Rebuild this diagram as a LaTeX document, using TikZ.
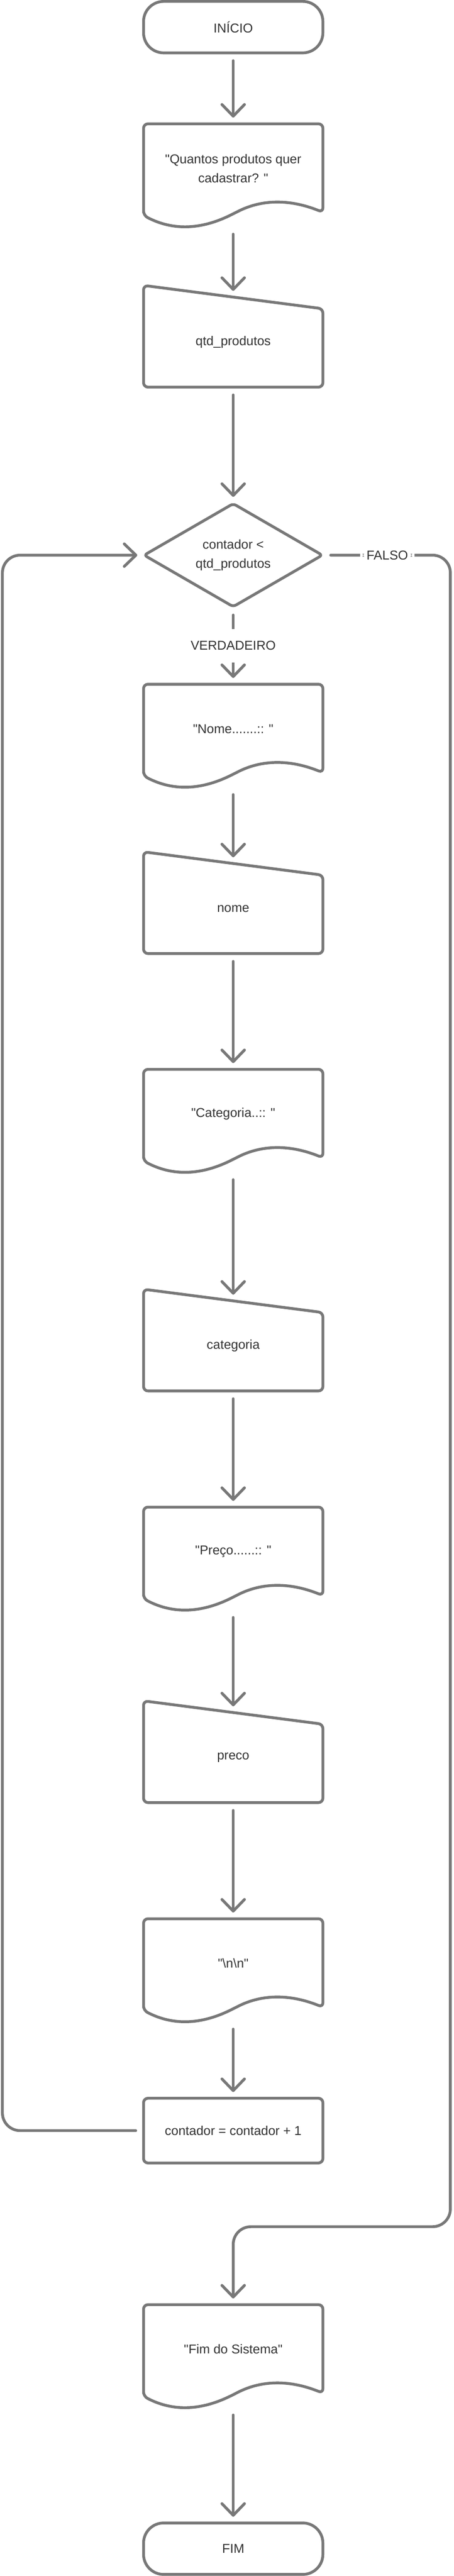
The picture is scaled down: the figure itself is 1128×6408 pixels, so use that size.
\documentclass[tikz,border=0pt]{standalone}
\usepackage{fontspec}
\setmainfont{Liberation Sans}[Ligatures=TeXOff]
\usetikzlibrary{arrows.meta,shapes.geometric}
\definecolor{linegray}{HTML}{787878}
\definecolor{txtgray}{HTML}{333333}

% outlines drawn round the (invisible) text nodes
\newcommand{\docoutline}[1]{%
  \draw[shapeline,shift={(#1.center)}] (-223,117) -- (-223,-111) -- (223,-111) -- (223,109)
    .. controls (141,76) and (71,76) .. (0,113)
    .. controls (-79,151) and (-148,156) .. (-223,117) -- cycle;}
\newcommand{\manoutline}[1]{%
  \draw[shapeline,shift={(#1.center)}] (-223,112) -- (-223,-141) -- (223,-83) -- (223,112) -- cycle;}

\begin{document}
\begin{tikzpicture}[x=0.5pt,y=-0.5pt,
  every node/.style={text=txtgray,font=\fontsize{16}{24}\selectfont,align=center},
  shapeline/.style={draw=linegray,line width=3.5pt,rounded corners=5.5pt},
  term/.style={draw=linegray,line width=3.5pt,rounded corners=25pt,minimum width=223pt,minimum height=64pt},
  proc/.style={draw=linegray,line width=3.5pt,rounded corners=5.5pt,minimum width=223pt,minimum height=80.5pt},
  doc/.style={line width=3.5pt,minimum width=223pt,minimum height=111pt},
  manin/.style={line width=3.5pt,minimum width=223pt,minimum height=112pt},
  decis/.style={diamond,aspect=1.72,draw=linegray,line width=3.5pt,rounded corners=4pt,minimum width=223pt,minimum height=129.5pt,inner sep=0pt},
  flow/.style={draw=linegray,line width=3.5pt,line cap=round,shorten <=8pt,shorten >=6pt,-{Straight Barb[length=14.5pt,width=28pt,round]}},
  fromdoc/.style={shorten <=24.5pt},
  lbl/.style={fill=white,inner xsep=8pt,inner ysep=15pt}]
\useasboundingbox (0,0) rectangle (1128,6408);

\node[term] (ini) at (580,67.5) {INÍCIO};
\node[doc] (msg1) at (580,419) {"Quantos produtos quer\\cadastrar? "};
\node[manin] (qtd) at (580,851) {qtd\_produtos};
\node[decis] (dec) at (580,1381) {contador <\\qtd\_produtos};
\node[doc] (nomemsg) at (580,1813) {"Nome.......:: "};
\node[manin] (nome) at (580,2260) {nome};
\node[doc] (catmsg) at (580,2771) {"Categoria..:: "};
\node[manin] (cat) at (580,3348) {categoria};
\node[doc] (prcmsg) at (580,3860) {"Preço......:: "};
\node[manin] (prc) at (580,4372) {preco};
\node[doc] (nlmsg) at (580,4884) {"\textbackslash n\textbackslash n"};
\node[proc] (inc) at (580,5300) {contador = contador + 1};
\node[doc] (fimmsg) at (580,5844) {"Fim do Sistema"};
\node[term] (fim) at (580,6340) {FIM};

\docoutline{msg1}
\docoutline{nomemsg}
\docoutline{catmsg}
\docoutline{prcmsg}
\docoutline{nlmsg}
\docoutline{fimmsg}
\manoutline{qtd}
\manoutline{nome}
\manoutline{cat}
\manoutline{prc}

\coordinate (lft) at (6,5300);
\coordinate (rgt) at (1120,5539);

\draw[flow] (ini) -- (msg1);
\draw[flow,fromdoc] (msg1) -- (qtd);
\draw[flow] (qtd) -- (dec);
\draw[flow] (dec) -- node[lbl] {VERDADEIRO} (nomemsg);
\draw[flow,fromdoc] (nomemsg) -- (nome);
\draw[flow] (nome) -- (catmsg);
\draw[flow,fromdoc] (catmsg) -- (cat);
\draw[flow] (cat) -- (prcmsg);
\draw[flow,fromdoc] (prcmsg) -- (prc);
\draw[flow] (prc) -- (nlmsg);
\draw[flow,fromdoc] (nlmsg) -- (inc);
\draw[flow,fromdoc] (fimmsg) -- (fim);

% laco e saida
\draw[flow,rounded corners=22pt] (inc) -- (inc -| lft) |- (dec);
\draw[flow,rounded corners=22pt] (dec) -- node[lbl,inner ysep=4pt] {FALSO} (dec -| rgt) -- (rgt) -| (fimmsg);
\end{tikzpicture}
\end{document}
